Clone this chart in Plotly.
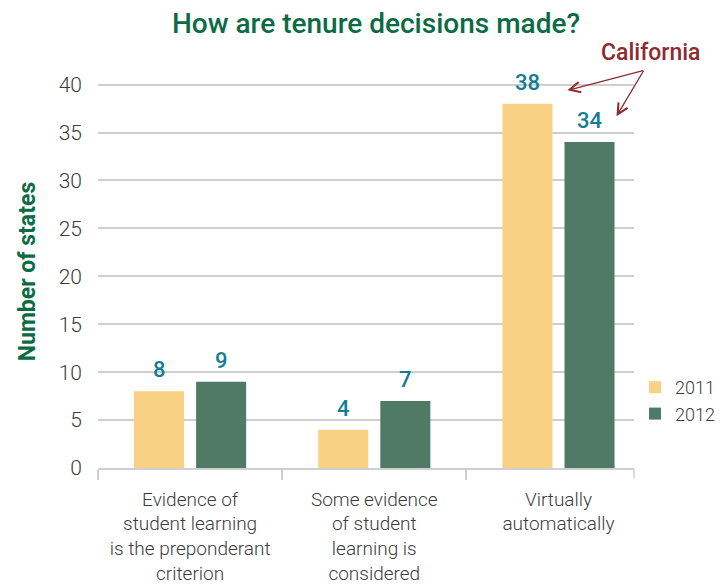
import plotly.graph_objects as go

categories = ["Evidence of student learning is the preponderant criterion",
              "Some evidence of student learning is considered",
              "Virtually automatically"]
tick_labels = ["Evidence of<br>student learning<br>is the preponderant<br>criterion",
               "Some evidence<br>of student<br>learning is<br>considered",
               "Virtually<br>automatically"]
series_names = ["2011", "2012"]
values_2011 = [8, 4, 38]
values_2012 = [9, 7, 34]
y_ticks = [0, 5, 10, 15, 20, 25, 30, 35, 40]

YELLOW = "#F8D185"
GREEN = "#4E7A66"
TEAL = "#137D95"
TITLE_GREEN = "#0B6B45"
RED = "#8E2B30"
GRAY = "#3c3c3c"
LINE = "#cfcfcf"

# page body has an 8px margin: lay out in figure coordinates accordingly
L, T, PW, PH = 90, 67, 536, 393
W, H = 725, 586

fig = go.Figure()
fig.add_trace(go.Bar(x=categories, y=values_2011, name=series_names[0],
                     marker=dict(color=YELLOW, line=dict(width=0))))
fig.add_trace(go.Bar(x=categories, y=values_2012, name=series_names[1],
                     marker=dict(color=GREEN, line=dict(width=0))))

annotations = []
for vals, shift in ((values_2011, -31), (values_2012, 31)):
    for c, v in zip(categories, vals):
        annotations.append(dict(x=c, y=v, text=str(v), showarrow=False,
                                xshift=shift, yshift=7, yanchor="bottom",
                                font=dict(family="Roboto", size=22, color=TEAL, weight=500)))

# California arrows
annotations.append(dict(x=categories[2], y=39.4, xshift=9, ax=77, ay=-20,
                        text="", showarrow=True, arrowhead=5, arrowsize=1.6,
                        arrowwidth=1.3, arrowcolor=RED))
annotations.append(dict(x=categories[2], y=36.7, xshift=58, ax=28, ay=-47,
                        text="", showarrow=True, arrowhead=5, arrowsize=1.6,
                        arrowwidth=1.3, arrowcolor=RED))
annotations.append(dict(xref="paper", yref="paper", x=(643 - L) / PW, y=(T + PH - 44) / PH,
                        xanchor="center", yanchor="middle",
                        text="California", showarrow=False,
                        font=dict(family="Roboto", size=23, color=RED, weight=500)))

fig.update_layout(
    width=W, height=H,
    margin=dict(l=L, r=W - L - PW, t=T, b=H - T - PH, autoexpand=False),
    paper_bgcolor="white", plot_bgcolor="white",
    barmode="group", bargap=0.326, bargroupgap=0.194,
    title=dict(text="How are tenure decisions made?", x=368 / W, xanchor="center",
               y=1 - 15 / H, yanchor="middle",
               font=dict(family="Roboto", size=28, color=TITLE_GREEN, weight=500)),
    font=dict(family="Roboto", color=GRAY),
    showlegend=True,
    legend=dict(x=(627 - L) / PW, xanchor="left", y=(T + PH - 361) / PH, yanchor="top",
                font=dict(family="Roboto", size=18, color=GRAY, weight=300),
                itemwidth=30, tracegroupgap=0, bgcolor="rgba(0,0,0,0)"),
    annotations=annotations,
    shapes=[dict(type="line", xref="paper", yref="paper", x0=1, x1=1,
                 ysizemode="pixel", yanchor=0, y0=0, y1=-10,
                 line=dict(color=LINE, width=1.5))],
)

fig.update_xaxes(
    type="category", range=[-0.5, 2.41], automargin=False, tickangle=0,
    tickmode="array", tickvals=categories, ticktext=tick_labels,
    tickson="boundaries", ticks="outside", ticklen=10, tickwidth=1.5, tickcolor=LINE,
    ticklabelstandoff=13,
    showline=True, linecolor=LINE, linewidth=1.5,
    showgrid=False, zeroline=False,
    tickfont=dict(family="Roboto", size=19, color=GRAY, weight=300),
)
fig.update_yaxes(
    range=[0, 41], tickmode="array", tickvals=y_ticks, automargin=False,
    showgrid=True, gridcolor=LINE, gridwidth=1.5, zeroline=False, showline=False,
    ticks="", ticklabelstandoff=15,
    tickfont=dict(family="Roboto", size=21, color=GRAY, weight=300),
    title=dict(text="Number of states", standoff=16,
               font=dict(family="Roboto", size=23, color=TITLE_GREEN, weight=700)),
)

fig.write_html("out.html")
